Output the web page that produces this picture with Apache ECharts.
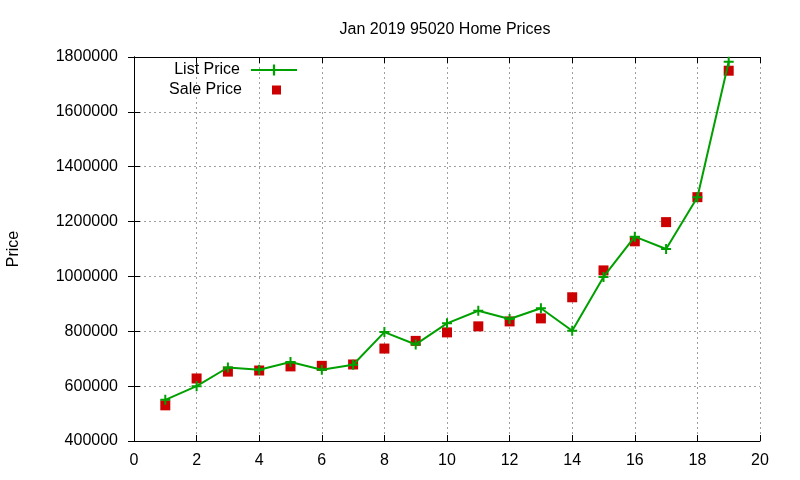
<!DOCTYPE html>
<html>
<head>
<meta charset="utf-8">
<script src="https://cdn.jsdelivr.net/npm/echarts@6/dist/echarts.min.js"></script>
<style>html,body{margin:0;padding:0;background:#fff}#c{width:800px;height:480px}</style>
</head>
<body>
<div id="c"></div>
<script>
const xValues = [1,2,3,4,5,6,7,8,9,10,11,12,13,14,15,16,17,18,19];
const listPrice = [550000,600000,668000,660000,688000,660000,678000,797000,752000,829000,875000,845000,884000,802000,998000,1145000,1100000,1289000,1783000];
const salePrice = [530000,628000,653000,657000,672000,674000,679000,737000,765000,796000,818000,836000,847000,924000,1022000,1128000,1198000,1289000,1750000];
const titleText = 'Jan 2019 95020 Home Prices';
const yLabel = 'Price';

const FONT = 'Liberation Sans';
const FS = 16;
const chart = echarts.init(document.getElementById('c'));
const plus = 'path://M4,0H6V4H10V6H6V10H4V6H0V4H4Z';
const square = 'path://M0,0H10V10H0Z';
const axisCommon = {
  axisLine: {show: true, lineStyle: {color: '#000', width: 1}},
  axisTick: {show: true, inside: true, length: 6, lineStyle: {color: '#000'}},
};
chart.setOption({
  animation: false,
  backgroundColor: '#fff',
  title: {text: titleText, left: 440, textAlign: 'center', top: 17,
    textStyle: {fontFamily: FONT, fontSize: FS, fontWeight: 'normal', color: '#000'}},
  grid: {left: 134, right: 40, top: 57, bottom: 39, containLabel: false, outerBoundsMode: 'none'},
  legend: [
    {data: ['List Price'], right: 502, top: 62, padding: 0, align: 'right', itemWidth: 46, itemHeight: 14,
      textStyle: {fontFamily: FONT, fontSize: FS, color: '#000', padding: [0, 6, 0, 0]}, selectedMode: false},
    {data: [{name: 'Sale Price', icon: square}], right: 519, top: 82, padding: 0, align: 'right', itemWidth: 9, itemHeight: 9,
      textStyle: {fontFamily: FONT, fontSize: FS, color: '#000', padding: [0, 25, 0, 0]}, selectedMode: false}
  ],
  xAxis: [
    Object.assign({type: 'value', min: 0, max: 20, interval: 2, position: 'bottom',
      axisLabel: {fontFamily: FONT, fontSize: FS, color: '#000', margin: 12},
      splitLine: {show: true, lineStyle: {color: '#a0a0a0', type: [2, 3], width: 1}}}, axisCommon),
    Object.assign({type: 'value', min: 0, max: 20, interval: 2, position: 'top',
      axisLabel: {show: false}, splitLine: {show: false}}, axisCommon)
  ],
  yAxis: [
    Object.assign({type: 'value', min: 400000, max: 1800000, interval: 200000, position: 'left',
      name: yLabel, nameLocation: 'middle', nameGap: 112, nameRotate: 90,
      nameTextStyle: {fontFamily: FONT, fontSize: FS, color: '#000'},
      axisLabel: {fontFamily: FONT, fontSize: FS, color: '#000', margin: 16, formatter: v => String(v)},
      splitLine: {show: true, lineStyle: {color: '#a0a0a0', type: [2, 3], width: 1}}}, axisCommon),
    Object.assign({type: 'value', min: 400000, max: 1800000, interval: 200000, position: 'right',
      axisLabel: {show: false}, splitLine: {show: false}}, axisCommon)
  ],
  series: [
    {name: 'List Price', type: 'line', data: xValues.map((x, i) => [x, listPrice[i]]),
      symbol: plus, symbolSize: 10, showSymbol: true,
      lineStyle: {color: '#00a000', width: 2}, itemStyle: {color: '#00a000', opacity: 1}, z: 3},
    {name: 'Sale Price', type: 'scatter', data: xValues.map((x, i) => [x, salePrice[i]]),
      symbol: 'rect', symbolSize: 10, itemStyle: {color: '#cc0000', opacity: 1}, z: 2}
  ]
});
</script>
</body>
</html>
